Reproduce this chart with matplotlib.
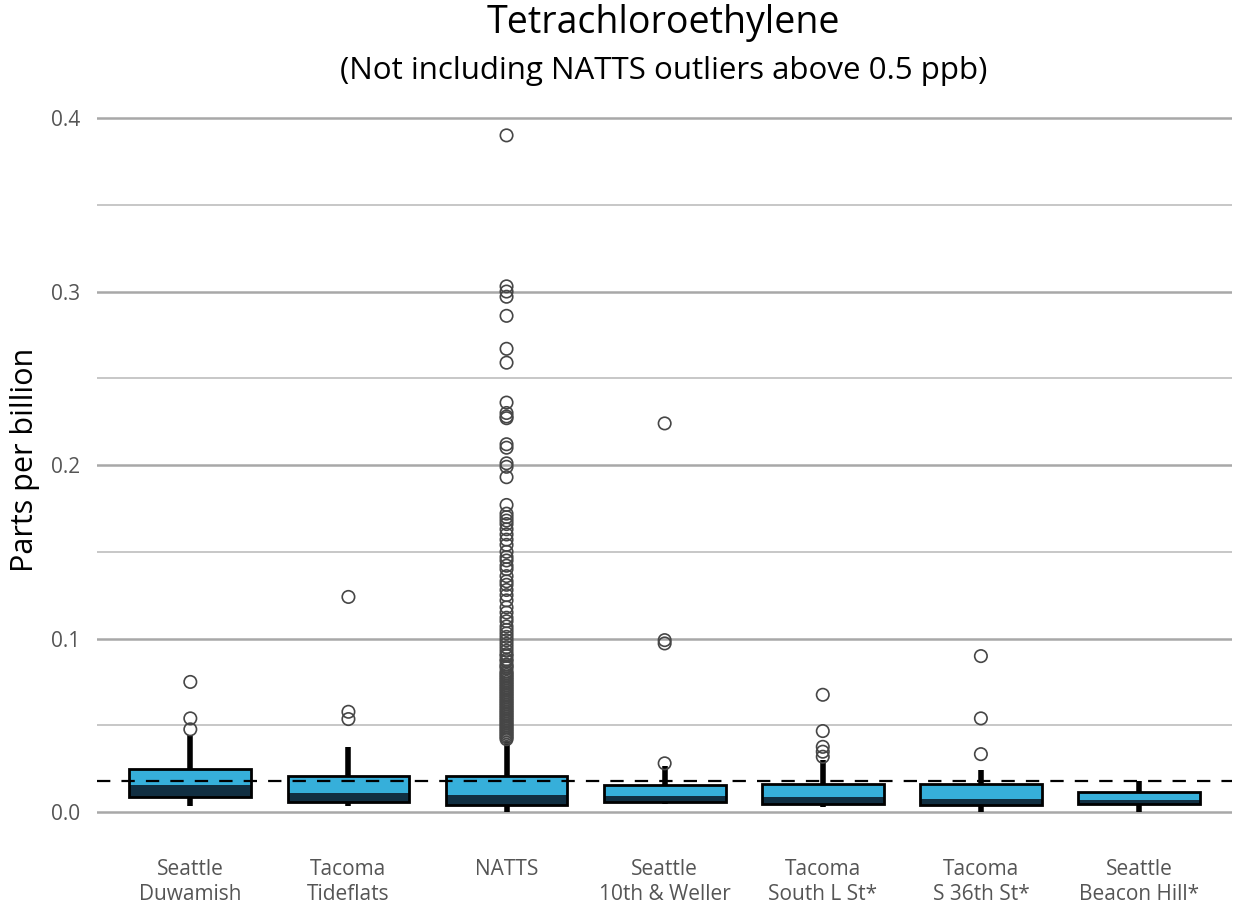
import matplotlib
matplotlib.use("Agg")
import matplotlib.pyplot as plt
import numpy as np

# ---------------- data ----------------
sites = ["Seattle\nDuwamish", "Tacoma\nTideflats", "NATTS", "Seattle\n10th & Weller",
         "Tacoma\nSouth L St*", "Tacoma\nS 36th St*", "Seattle\nBeacon Hill*"]
q1 = [0.0086, 0.0056, 0.0040, 0.0056, 0.0046, 0.0040, 0.0046]
med = [0.0156, 0.0111, 0.0098, 0.0092, 0.0085, 0.0073, 0.0069]
q3 = [0.0248, 0.0209, 0.0207, 0.0156, 0.0161, 0.0160, 0.0113]
whislo = [0.0037, 0.0035, 0.0000, 0.0044, 0.0027, 0.0002, 0.0002]
whishi = [0.0444, 0.0376, 0.0410, 0.0267, 0.0300, 0.0242, 0.0180]

out_duwamish = [0.075, 0.054, 0.0477]
out_tideflats = [0.124, 0.0578, 0.0536]
out_natts = [0.390, 0.303, 0.300, 0.297, 0.286, 0.267, 0.259, 0.236, 0.230, 0.228,
             0.227, 0.212, 0.210, 0.201, 0.199, 0.193, 0.177, 0.172, 0.170, 0.168,
             0.166, 0.163, 0.160, 0.157, 0.154, 0.150, 0.147, 0.145, 0.142, 0.140,
             0.136, 0.133, 0.131, 0.128, 0.125, 0.122, 0.118, 0.115, 0.112, 0.110,
             0.107, 0.105, 0.103, 0.101, 0.099, 0.097, 0.095, 0.093, 0.091, 0.090,
             0.088, 0.087, 0.085, 0.084, 0.083, 0.081, 0.080, 0.079, 0.078, 0.077,
             0.076, 0.075, 0.074, 0.073, 0.072, 0.071, 0.070, 0.069, 0.068, 0.067,
             0.066, 0.065, 0.064, 0.063, 0.062, 0.061, 0.060, 0.059, 0.058, 0.057,
             0.056, 0.055, 0.054, 0.053, 0.052, 0.051, 0.050, 0.049, 0.048, 0.047,
             0.046, 0.045, 0.044, 0.043, 0.042]
out_weller = [0.224, 0.0991, 0.0972, 0.0281]
out_southl = [0.0676, 0.0467, 0.0376, 0.0348, 0.0319]
out_s36 = [0.0899, 0.054, 0.0334]
out_beacon = []
outliers = [out_duwamish, out_tideflats, out_natts, out_weller, out_southl, out_s36, out_beacon]

ref_level = 0.018
yticks = [0.0, 0.1, 0.2, 0.3, 0.4]
yticks_minor = [0.05, 0.15, 0.25, 0.35]

# ---------------- style ----------------
plt.rcParams['font.family'] = ['Open Sans', 'DejaVu Sans']
light = "#36afda"
dark = "#112f42"

fig = plt.figure(figsize=(12.36, 9.07), dpi=100)
ax = fig.add_axes([0.0785, 0.097, 0.9185, 0.792])

x = np.arange(len(sites))
w = 0.77

# gridlines
for yv in yticks:
    ax.axhline(yv, color="#a8a8a8", lw=1.8, zorder=0)
for yv in yticks_minor:
    ax.axhline(yv, color="#b8b8b8", lw=1.1, zorder=0)

# boxes
ax.bar(x, np.array(med) - np.array(q1), bottom=q1, width=w, color=dark, lw=0, zorder=2)
ax.bar(x, np.array(q3) - np.array(med), bottom=med, width=w, color=light, lw=0, zorder=2)
ax.bar(x, np.array(q3) - np.array(q1), bottom=q1, width=w, facecolor="none",
       edgecolor="black", lw=2.0, zorder=3)

# whiskers
ax.vlines(x, q3, whishi, color="black", lw=4.0, zorder=1.5)
ax.vlines(x, whislo, q1, color="black", lw=4.0, zorder=1.5)

# outliers
for i, vals in enumerate(outliers):
    if vals:
        ax.scatter(np.full(len(vals), x[i]), vals, s=80, facecolors="none",
                   edgecolors="#464646", linewidths=1.2, zorder=4)

# reference line
ax.axhline(ref_level, color="black", lw=1.6, dashes=(6, 5), zorder=5)

ax.set_xlim(-0.59, 6.59)
ax.set_ylim(-0.004, 0.41)
ax.set_yticks(yticks)
ax.set_yticklabels([f"{v:.1f}" for v in yticks], fontsize=15, color="#555555")
ax.set_xticks(x)
ax.set_xticklabels(sites, fontsize=15, color="#555555", linespacing=1.25)
ax.tick_params(axis="both", length=0)
ax.tick_params(axis="y", pad=12)
ax.tick_params(axis="x", pad=29)
for s in ax.spines.values():
    s.set_visible(False)

ax.set_ylabel("Parts per billion", fontsize=22, color="black", labelpad=8)

fig.text(0.537, 0.975, "Tetrachloroethylene", ha="center", va="center", fontsize=27)
fig.text(0.537, 0.922, "(Not including NATTS outliers above 0.5 ppb)", ha="center",
         va="center", fontsize=22.5)

fig.savefig("out.png", dpi=100)
